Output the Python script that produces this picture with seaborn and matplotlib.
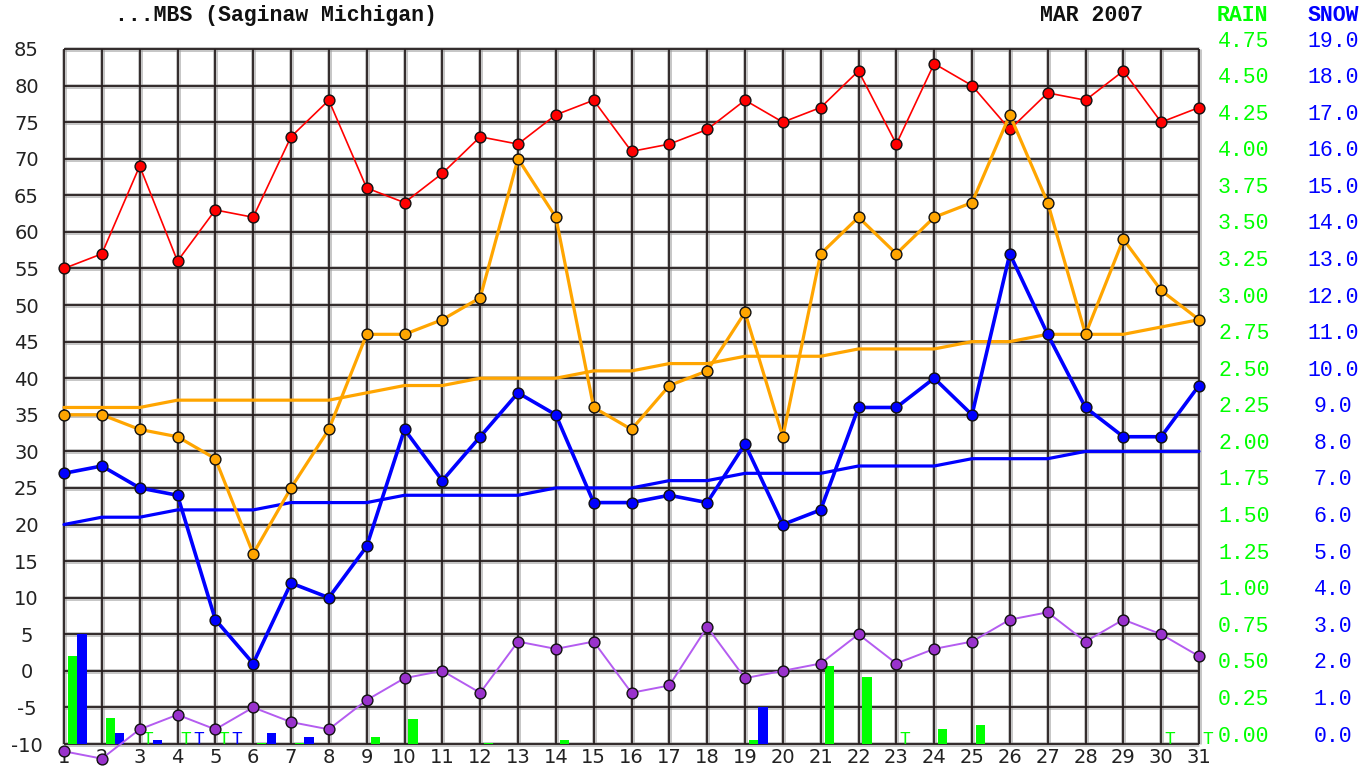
import numpy as np
import matplotlib
matplotlib.use("Agg")
import matplotlib.pyplot as plt
import seaborn as sns
from matplotlib import transforms

# ---------------- data ----------------
days = list(range(1, 32))
record_high = [55, 57, 69, 56, 63, 62, 73, 78, 66, 64, 68, 73, 72, 76, 78, 71,
               72, 74, 78, 75, 77, 82, 72, 83, 80, 74, 79, 78, 82, 75, 77]
daily_max = [35, 35, 33, 32, 29, 16, 25, 33, 46, 46, 48, 51, 70, 62, 36, 33,
             39, 41, 49, 32, 57, 62, 57, 62, 64, 76, 64, 46, 59, 52, 48]
normal_high = [36, 36, 36, 37, 37, 37, 37, 37, 38, 39, 39, 40, 40, 40, 41, 41,
               42, 42, 43, 43, 43, 44, 44, 44, 45, 45, 46, 46, 46, 47, 48]
daily_min = [27, 28, 25, 24, 7, 1, 12, 10, 17, 33, 26, 32, 38, 35, 23, 23,
             24, 23, 31, 20, 22, 36, 36, 40, 35, 57, 46, 36, 32, 32, 39]
normal_low = [20, 21, 21, 22, 22, 22, 23, 23, 23, 24, 24, 24, 24, 25, 25, 25,
              26, 26, 27, 27, 27, 28, 28, 28, 29, 29, 29, 30, 30, 30, 30]
record_low = [-11, -12, -8, -6, -8, -5, -7, -8, -4, -1, 0, -3, 4, 3, 4, -3,
              -2, 6, -1, 0, 1, 5, 1, 3, 4, 7, 8, 4, 7, 5, 2]
rain = [0.60, 0.18, 0, 0, 0, 0.01, 0.01, 0, 0.05, 0.17, 0, 0.01, 0, 0.03, 0, 0,
        0, 0, 0.03, 0, 0.53, 0.46, 0, 0.10, 0.13, 0, 0, 0, 0, 0, 0]
snow = [3.0, 0.3, 0.1, 0, 0, 0.3, 0.2, 0, 0, 0, 0, 0, 0, 0, 0, 0,
        0, 0, 1.0, 0, 0, 0, 0, 0, 0, 0, 0, 0, 0, 0, 0]
rain_trace_days = [3, 4, 5, 23, 30, 31]
snow_trace_days = [4, 5]
temp_ticks = [-10, -5, 0, 5, 10, 15, 20, 25, 30, 35, 40, 45, 50, 55, 60, 65, 70, 75, 80, 85]
rain_ticks = [0.00, 0.25, 0.50, 0.75, 1.00, 1.25, 1.50, 1.75, 2.00, 2.25,
              2.50, 2.75, 3.00, 3.25, 3.50, 3.75, 4.00, 4.25, 4.50, 4.75]
snow_ticks = [0.0, 1.0, 2.0, 3.0, 4.0, 5.0, 6.0, 7.0, 8.0, 9.0,
              10.0, 11.0, 12.0, 13.0, 14.0, 15.0, 16.0, 17.0, 18.0, 19.0]
title_left = "...MBS (Saginaw Michigan)"
title_right = "MAR 2007"

# ---------------- style ----------------
sns.set_theme(style="white")
plt.rcParams["font.family"] = ["DejaVu Sans"]
MONO = ["Liberation Mono", "DejaVu Sans Mono"]
GREEN = "#00ff00"
BLUE = "#0000ff"
ORANGE = "#ffa500"
RED = "#ff0000"
PURPLE_LINE = "#b45cf0"
PURPLE_MK = "#9932cc"

W, H = 1372, 769
fig = plt.figure(figsize=(W / 100, H / 100), dpi=100)
fig.patch.set_facecolor("white")
x0, x1 = 64, 1199
y_top, y_bot = 49, 744
ax = fig.add_axes([x0 / W, 1 - y_bot / H, (x1 - x0) / W, (y_bot - y_top) / H])
ax_rain = ax.twinx()
ax_snow = ax.twinx()

ax_rain.set_zorder(0)
ax_rain.patch.set_visible(True)
ax_rain.patch.set_facecolor("white")
ax_snow.set_zorder(1)
ax.set_zorder(2)
ax.patch.set_visible(False)

ax.set_xlim(1, 31)
ax.set_ylim(-10, 85)
ax_rain.set_ylim(0, 4.75)
ax_snow.set_ylim(0, 19)

for a in (ax, ax_rain, ax_snow):
    for s in a.spines.values():
        s.set_visible(False)
    a.grid(False)

# grid (soft halo + dark core), drawn on bottom axes
ax_rain.vlines(days, 0, 4.75, color="#9a9a9a", lw=3.6, alpha=0.55, zorder=0.2, clip_on=False)
ax_rain.hlines(rain_ticks, 1, 31, color="#9a9a9a", lw=3.6, alpha=0.55, zorder=0.2, clip_on=False)
ax_rain.vlines(days, 0, 4.75, color="#261e1e", lw=1.3, zorder=0.3, clip_on=False)
ax_rain.hlines(rain_ticks, 1, 31, color="#261e1e", lw=1.3, zorder=0.3, clip_on=False)

# bars
d = np.array(days, dtype=float)
ax_rain.bar(d + 0.225, rain, width=0.24, color=GREEN, zorder=1, linewidth=0)
ax_snow.bar(d + 0.475, snow, width=0.24, color=BLUE, zorder=1, linewidth=0)

# trace markers
for t in rain_trace_days:
    ax_rain.text(t + 0.22, 0, "T", color=GREEN, ha="center", va="baseline",
                 family=MONO, fontsize=13, clip_on=False, zorder=3)
for t in snow_trace_days:
    ax_snow.text(t + 0.57, 0, "T", color=BLUE, ha="center", va="baseline",
                 family=MONO, fontsize=13, clip_on=False, zorder=3)

# lines
mk = dict(marker="o", markersize=7.8, markeredgecolor="#111111", markeredgewidth=1.0, clip_on=False)
sns.lineplot(x=days, y=normal_high, ax=ax, color=ORANGE, lw=2.3, clip_on=False, zorder=3)
sns.lineplot(x=days, y=normal_low, ax=ax, color=BLUE, lw=2.3, clip_on=False, zorder=3)
sns.lineplot(x=days, y=record_high, ax=ax, color=RED, lw=1.2, markerfacecolor=RED, zorder=4, **mk)
sns.lineplot(x=days, y=daily_max, ax=ax, color=ORANGE, lw=2.3, markerfacecolor=ORANGE, zorder=5, **mk)
sns.lineplot(x=days, y=daily_min, ax=ax, color=BLUE, lw=2.6, markerfacecolor=BLUE, zorder=5, **mk)
sns.lineplot(x=days, y=record_low, ax=ax, color=PURPLE_LINE, lw=1.4, markerfacecolor=PURPLE_MK, zorder=6, **mk)

# ticks
ax.set_xticks(days)
ax.set_xticklabels([str(v) for v in days])
ax.set_yticks(temp_ticks)
ax.set_yticklabels([str(v) for v in temp_ticks], ha="center")
ax.tick_params(axis="x", length=0, pad=3, labelsize=14, labelcolor="#222222")
ax.tick_params(axis="y", length=0, pad=27, labelsize=14, labelcolor="#222222")
ax.set_xlabel("")
ax.set_ylabel("")
for a in (ax_rain, ax_snow):
    a.set_yticks([])
    a.tick_params(axis="y", length=0, labelright=False)

# right-hand scales
up = transforms.ScaledTranslation(0, 2.5 / 100, fig.dpi_scale_trans)
tr_rain = transforms.blended_transform_factory(fig.transFigure, ax_rain.transData) + up
tr_snow = transforms.blended_transform_factory(fig.transFigure, ax_snow.transData) + up
for v in rain_ticks:
    fig.text(1218 / W, v, f"{v:.2f}", transform=tr_rain, color=GREEN, family=MONO,
             fontsize=15.5, ha="left", va="baseline")
for v in snow_ticks:
    fig.text(1333 / W, v, f"{v:.1f}", transform=tr_snow, color=BLUE, family=MONO,
             fontsize=15.5, ha="center", va="baseline")

# header texts
yb = 1 - 21 / H
fig.text(115 / W, yb, title_left, family=MONO, fontsize=15.5, weight="bold", color="#111111", va="baseline")
fig.text(1040 / W, yb, title_right, family=MONO, fontsize=15.5, weight="bold", color="#111111", va="baseline")
fig.text(1217 / W, yb, "RAIN", family=MONO, fontsize=15.5, weight="bold", color=GREEN, va="baseline")
fig.text(1308 / W, yb, "SNOW", family=MONO, fontsize=15.5, weight="bold", color=BLUE, va="baseline")

fig.savefig("out.png", dpi=100)
